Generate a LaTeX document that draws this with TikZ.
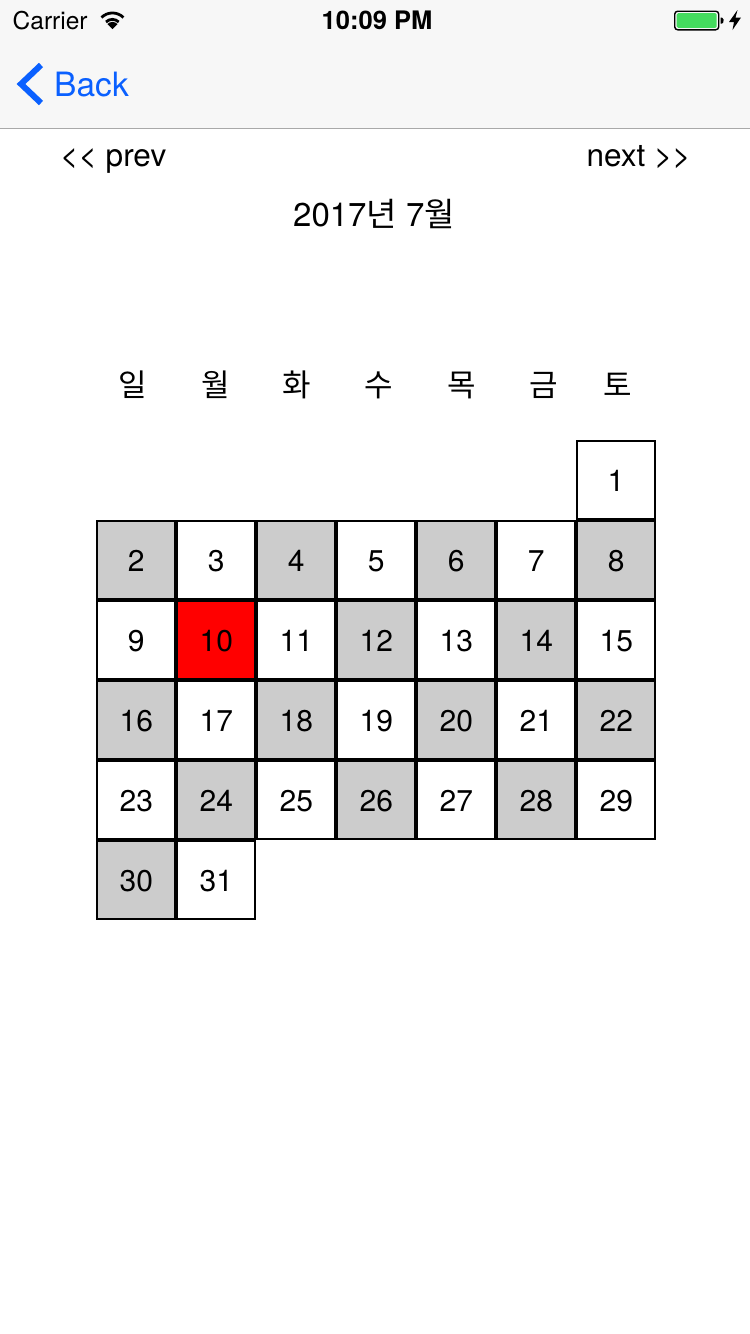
\documentclass[tikz,border=0pt]{standalone}
\usepackage{fontspec}
\setmainfont{TeX Gyre Heros}
\newfontfamily\krfont{Noto Sans CJK KR}
\definecolor{barbg}{HTML}{F7F7F7}
\definecolor{barline}{HTML}{A9A9A9}
\definecolor{iosblue}{HTML}{0A60FF}
\definecolor{cellgray}{HTML}{CCCCCC}
\definecolor{batgreen}{HTML}{44DB5E}
\tikzset{
  x=1pt,y=-1pt,
  daycell/.style={draw=black,line width=2pt,minimum size=78pt,inner sep=0pt,outer sep=0pt,text=black},
  daynum/.style={inner sep=0pt,anchor=base,font=\fontsize{30}{30}\selectfont,text=black},
  gray cell/.style={daycell,fill=cellgray},
  white cell/.style={daycell,fill=white},
  red cell/.style={daycell,fill=red},
  wday/.style={font=\krfont\fontsize{31}{31}\selectfont,inner sep=0pt},
  plain/.style={inner sep=0pt,font=\fontsize{31.5}{31}\selectfont},
}
\begin{document}
\begin{tikzpicture}
\useasboundingbox (0,0) rectangle (750,1334);
\fill[white] (0,0) rectangle (750,1334);
\fill[barbg] (0,0) rectangle (750,128);
\fill[barline] (0,128) rectangle (750,129);
% status bar
\node[anchor=base west,inner sep=0pt,font=\fontsize{24.5}{24}\selectfont] (carrier) at (12.5,29) {Carrier};
\begin{scope}[line width=2.8pt,line cap=butt]
\draw (101.5,17.5) arc[start angle=-135,end angle=-45,radius=15.5];
\draw (106,22) arc[start angle=-135,end angle=-45,radius=9];
\fill (107.5,24) -- (112.5,29) -- (117.5,24) arc[start angle=-45,end angle=-135,radius=7.1] -- cycle;
\end{scope}
\node[anchor=base,inner sep=0pt,font=\fontsize{25.5}{24}\selectfont\bfseries] (clock) at (377,29) {10:09 PM};
\draw[line width=1.4pt,rounded corners=3pt] (674.7,11.2) rectangle (718.7,29.8);
\fill[batgreen,rounded corners=1.5pt] (676.7,13.2) rectangle (716.7,27.8);
\fill (720.5,17.5) -- (722,17.5) arc[start angle=-60,end angle=60,radius=3.5] -- (720.5,23.5) -- cycle;
\fill (737.5,10) -- (729,22) -- (734,22) -- (732.5,30) -- (741,17.5) -- (735.5,17.5) -- cycle;
% nav bar
\draw[iosblue,line width=6pt,line cap=butt,line join=miter] (41,65) -- (21,84) -- (41,103);
\node[anchor=base west,inner sep=0pt,text=iosblue,font=\fontsize{33.5}{34}\selectfont] (back) at (54,96) {Back};
% header
\node[plain,anchor=base west] (prev) at (60,166) {<{}< prev};
\node[plain,anchor=base east] (next) at (691,166) {next >{}>};
\node[anchor=base,inner sep=0pt,font=\fontsize{33}{33}\selectfont] (title) at (374,226) {2017{\krfont 년} 7{\krfont 월}};
% weekdays
\node[wday] (w0) at (132.5,385) {일};
\node[wday] (w1) at (215.5,385) {월};
\node[wday] (w2) at (296.5,385) {화};
\node[wday] (w3) at (378.5,385) {수};
\node[wday] (w4) at (461.5,385) {목};
\node[wday] (w5) at (543.5,385) {금};
\node[wday] (w6) at (617.5,385) {토};
% days
\node[white cell] (d1) at (616,480) {};
\node[daynum] (n1) at (616,491.2) {1};
\foreach \n/\c/\r/\s in {
 2/0/0/gray,3/1/0/white,4/2/0/gray,5/3/0/white,6/4/0/gray,7/5/0/white,8/6/0/gray,
 9/0/1/white,10/1/1/red,11/2/1/white,12/3/1/gray,13/4/1/white,14/5/1/gray,15/6/1/white,
 16/0/2/gray,17/1/2/white,18/2/2/gray,19/3/2/white,20/4/2/gray,21/5/2/white,22/6/2/gray,
 23/0/3/white,24/1/3/gray,25/2/3/white,26/3/3/gray,27/4/3/white,28/5/3/gray,29/6/3/white,
 30/0/4/gray,31/1/4/white}{
  \node[\s\space cell] (d\n) at ({136+80*\c},{560+80*\r}) {};
  \node[daynum] (n\n) at ({136.3+80*\c},{571.2+80*\r}) {\n};
}
\end{tikzpicture}
\end{document}
